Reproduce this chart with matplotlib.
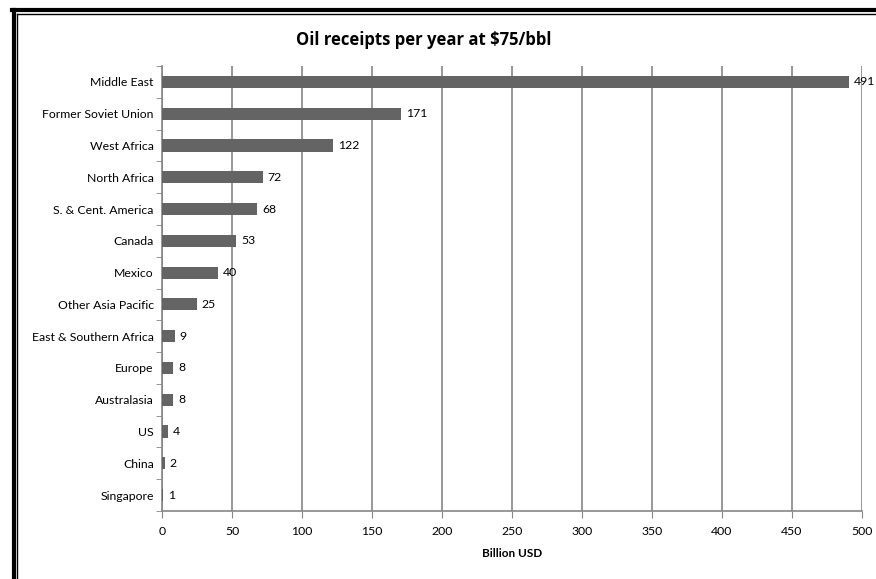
import matplotlib

matplotlib.use("Agg")
import matplotlib.pyplot as plt
from matplotlib.lines import Line2D

regions = [
    "Middle East", "Former Soviet Union", "West Africa", "North Africa",
    "S. & Cent. America", "Canada", "Mexico", "Other Asia Pacific",
    "East & Southern Africa", "Europe", "Australasia", "US", "China", "Singapore",
]
receipts = [491, 171, 122, 72, 68, 53, 40, 25, 9, 8, 8, 4, 2, 1]
x_ticks = [0, 50, 100, 150, 200, 250, 300, 350, 400, 450, 500]

plt.rcParams["font.family"] = ["Lato", "DejaVu Sans"]
W, H = 876, 579
fig = plt.figure(figsize=(W / 100, H / 100), dpi=100)
ax = fig.add_axes([162 / W, 1 - 511 / H, 700 / W, 445 / H])

grid_col = "#868686"
fs = 8.8
pos = list(range(len(regions)))[::-1]
ax.barh(pos, receipts, height=0.38, color="#646464", zorder=3)
for p, v in zip(pos, receipts):
    ax.text(v + 3.5, p, str(v), va="center", ha="left", fontsize=fs, zorder=4)

ax.set_xlim(0, 500)
ax.set_ylim(-0.5, len(regions) - 0.5)
ax.set_xticks(x_ticks)
ax.set_xticklabels([str(t) for t in x_ticks], fontsize=fs)
ax.set_yticks(pos)
ax.set_yticklabels(regions, fontsize=fs)
ax.tick_params(axis="y", length=0, pad=6)
ax.tick_params(axis="x", length=5, color=grid_col, pad=6)
# minor ticks on y at category boundaries
ax.set_yticks([p + 0.5 for p in range(-1, len(regions))], minor=True)
ax.tick_params(axis="y", which="minor", length=4, color=grid_col)
ax.grid(axis="x", color=grid_col, linewidth=1.2, zorder=1)
for s in ["top", "right"]:
    ax.spines[s].set_visible(False)
for s in ["left", "bottom"]:
    ax.spines[s].set_color(grid_col)
    ax.spines[s].set_linewidth(1.2)

ax.set_xlabel("Billion USD", fontsize=8.5, fontweight="bold", labelpad=8)
fig.text(424 / W, 1 - 40 / H, "Oil receipts per year at $75/bbl",
         ha="center", va="center", fontsize=12, fontweight="bold",
         family=["Open Sans", "DejaVu Sans"])

# outer frame (left and top edges, double line)
fig.add_artist(Line2D([13.5 / W, 13.5 / W], [0, 1 - 9.5 / H], color="black",
                      linewidth=3, transform=fig.transFigure))
fig.add_artist(Line2D([17 / W, 17 / W], [0, 1 - 13.5 / H], color="black",
                      linewidth=1, transform=fig.transFigure))
fig.add_artist(Line2D([12 / W, 1], [1 - 9.5 / H, 1 - 9.5 / H], color="black",
                      linewidth=3, transform=fig.transFigure))
fig.add_artist(Line2D([16.5 / W, 1], [1 - 13.5 / H, 1 - 13.5 / H], color="black",
                      linewidth=1, transform=fig.transFigure))

fig.savefig("out.png", dpi=100)
